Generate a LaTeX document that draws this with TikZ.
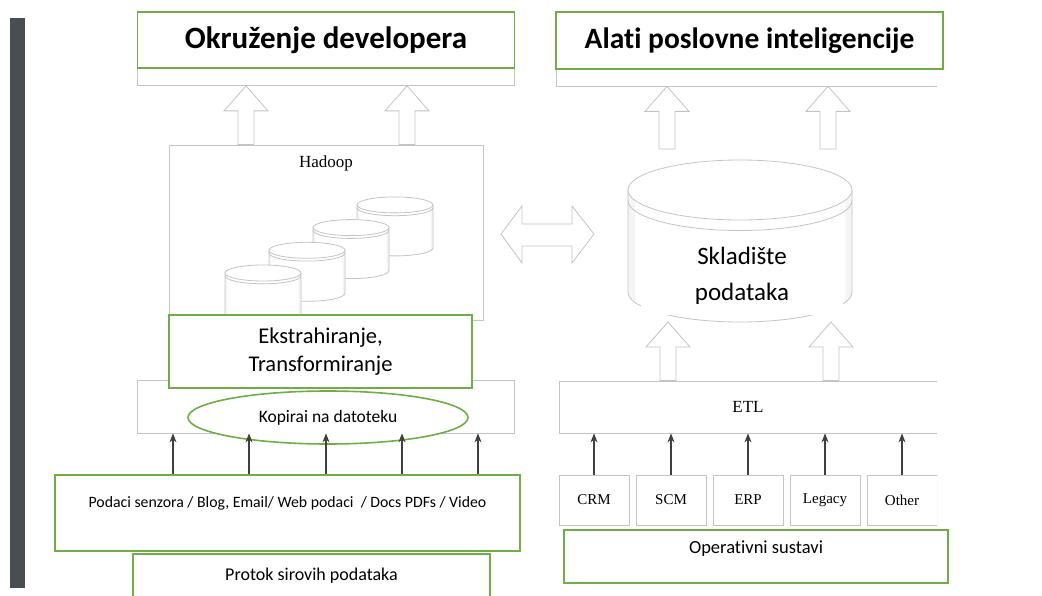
\documentclass[tikz,border=0pt]{standalone}
\usepackage{fontspec}
\setmainfont{Carlito}[Ligatures=NoCommon]
\newfontfamily\timesfont{Liberation Serif}
\usetikzlibrary{arrows,arrows.meta,calc,positioning,shapes.geometric}

\definecolor{boxgreen}{HTML}{70AD47}
\definecolor{linegray}{HTML}{C4C4C4}
\definecolor{arrowgray}{HTML}{3F3F3F}
\definecolor{bargray}{HTML}{4B4E51}

\tikzset{
  greenbox/.style={draw=boxgreen, line width=1.6pt, fill=white, inner sep=0pt},
  graybox/.style={draw=linegray, line width=0.8pt, fill=white, inner sep=0pt},
  hollow/.style={draw=linegray, line width=0.8pt, fill=white},
  cylline/.style={draw=linegray, line width=0.8pt},
  feed/.style={-{Stealth[length=9pt,width=7pt]}, draw=arrowgray, line width=1.1pt}
}

% hollow arrow pointing up: x, from anchor, to anchor
\newcommand{\hollowup}[3]{%
  \draw[hollow] let \p1=(#2), \p2=(#3) in
    (#1pt-8pt,\y1) -- (#1pt-8pt,\y2-25pt) -- (#1pt-22pt,\y2-25pt) -- (#1pt,\y2)
    -- (#1pt+22pt,\y2-25pt) -- (#1pt+8pt,\y2-25pt) -- (#1pt+8pt,\y1) -- cycle;}

% cylinder: centre x, top y, half width, half height of ellipse, height
\newcommand{\drum}[5]{%
  \fill[white] (#1-#3,#2) -- (#1-#3,#2+#5) arc (180:0:#3 and #4) -- (#1+#3,#2) -- cycle;
  \fill[gray!8] (#1-#3,#2) -- (#1-#3,#2+#5) arc (180:160:#3 and #4) -- ++(0,-#5) -- cycle;
  \fill[gray!8] (#1+#3,#2) -- (#1+#3,#2+#5) arc (0:20:#3 and #4) -- ++(0,-#5) -- cycle;
  \draw[cylline] (#1-#3,#2) -- (#1-#3,#2+#5) arc (180:0:#3 and #4) -- (#1+#3,#2);
  \draw[cylline, fill=white] (#1,#2) ellipse (#3 and #4);
  \draw[cylline] (#1-#3,#2+0.35*#4) arc (180:0:#3 and #4);}

\begin{document}
\begin{tikzpicture}[x=1pt, y=-1pt]
  \useasboundingbox (0,0) rectangle (1042,596);
  \fill[bargray] (10,18) rectangle (25,588);

  % left column
  \node (devbg) [graybox, minimum width=377pt, minimum height=73pt] at (326,49) {};
  \node (dev) [greenbox, minimum width=377pt, minimum height=56pt,
    font=\fontsize{31}{36}\selectfont\bfseries] at (326,40) {Okruženje developera};

  \node (hadoop) [graybox, minimum width=314pt, minimum height=175pt] at (326,232.5) {};
  \node [below=8pt of hadoop.north] {\timesfont\fontsize{17}{20}\selectfont Hadoop};
  \foreach \i in {3,2,1,0} {
    \drum{263+44*\i}{273-22.7*\i}{38}{8}{43}
  }

  \hollowup{246}{hadoop.north}{devbg.south}
  \hollowup{407}{hadoop.north}{devbg.south}

  \node (copybox) [graybox, minimum width=377pt, minimum height=53pt] at (326,406.5) {};
  \node (extract) [greenbox, minimum width=303pt, minimum height=73pt, align=center,
    font=\fontsize{22.5}{28}\selectfont] at (320.5,351.5) {Ekstrahiranje,\\ Transformiranje};
  \node (copy) [ellipse, draw=boxgreen, line width=1.6pt, fill=white,
    minimum width=280pt, minimum height=53pt, inner sep=0pt,
    font=\fontsize{17.5}{20}\selectfont] at (328,417.5) {Kopirai na datoteku};

  \node (sources) [greenbox, minimum width=465pt, minimum height=76pt] at (287.5,513) {};
  \node [below=19pt of sources.north, font=\fontsize{15.8}{19}\selectfont]
    {Podaci senzora / Blog, Email/ Web podaci \ / Docs PDFs / Video};
  \node (raw) [greenbox, anchor=north, minimum width=357pt, minimum height=50pt]
    at (311.5,553) {};
  \node [below=11pt of raw.north, font=\fontsize{18}{21}\selectfont] {Protok sirovih podataka};

  \foreach \x [count=\i] in {173,249,326,402,478} {
    \coordinate (in\i) at (\x,0);
    \draw[feed] (sources.north -| in\i) -- (copybox.south -| in\i);
  }

  % right column
  \begin{scope}
    \clip (540,0) rectangle (937,596);
    \node (bibg) [graybox, minimum width=400pt, minimum height=74pt] at (756,49) {};
    \node (etl) [graybox, minimum width=400pt, minimum height=52pt] at (759,407)
      {\hspace*{-22pt}\timesfont\fontsize{17}{20}\selectfont ETL};
    \foreach \name/\txt [count=\i from 0] in {crm/CRM,scm/SCM,erp/ERP,legacy/Legacy,other/Other}
      \node (\name) [graybox, minimum width=70pt, minimum height=50pt] at (594+77*\i,500)
        {\timesfont\fontsize{15}{18}\selectfont \txt};
  \end{scope}
  \node (bi) [greenbox, minimum width=387pt, minimum height=57pt,
    font=\fontsize{29.5}{34}\selectfont\bfseries] at (749.5,40.5) {Alati poslovne inteligencije};

  \drum{740}{190}{112}{30}{102}
  \node (dw) [fill=white, minimum width=202pt, minimum height=78pt, align=center,
    inner sep=0pt, font=\fontsize{25}{36}\selectfont] at (742,276) {Skladište\\ podataka};

  \coordinate (dwtop) at (740,149);
  \coordinate (dwbot) at (740,322);
  \hollowup{667}{dwtop}{bibg.south}
  \hollowup{828}{dwtop}{bibg.south}
  \hollowup{668}{etl.north}{dwbot}
  \hollowup{831}{etl.north}{dwbot}

  \foreach \name in {crm,scm,erp,legacy,other}
    \draw[feed] (\name.north) -- (etl.south -| \name.north);

  \node (ops) [greenbox, minimum width=384pt, minimum height=53pt] at (756,556.5) {};
  \node [below=8pt of ops.north, font=\fontsize{18.5}{22}\selectfont] {Operativni sustavi};

  % two way arrow between Hadoop and the warehouse
  \draw[hollow] (501,234) -- (522,206) -- (522,224) -- (572,224) -- (572,206) -- (594,234)
    -- (572,263) -- (572,246) -- (522,246) -- (522,263) -- cycle;
\end{tikzpicture}
\end{document}
